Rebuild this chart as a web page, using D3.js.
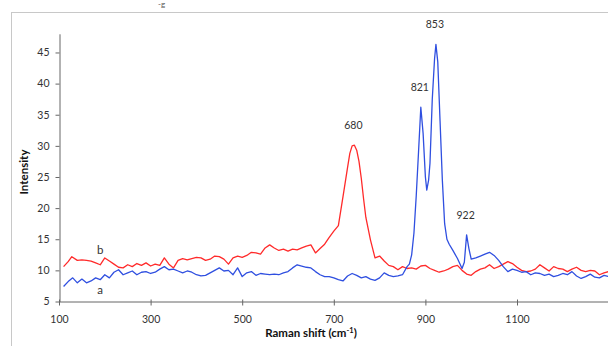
<!DOCTYPE html>
<html>
<head>
<meta charset="utf-8">
<script src="https://cdn.jsdelivr.net/npm/d3@7/dist/d3.min.js"></script>
<style>
  body { margin: 0; background: #fff; }
  svg { display: block; font-family: Lato, "Open Sans", sans-serif; }
</style>
</head>
<body>
<svg id="chart" width="608" height="346"></svg>
<script>
// spectrum b (red)
var shiftB = [110,120,128,140,150,160,170,180,190,200,210,220,230,240,250,260,270,280,290,300,
  310,320,330,340,350,360,370,380,390,400,410,420,430,440,450,460,470,480,490,500,
  510,520,530,540,550,560,570,580,590,600,610,620,630,640,650,660,670,680,690,700,
  710,720,730,735,740,745,750,755,760,765,770,780,790,800,810,820,830,840,850,860,
  870,880,890,900,910,920,930,940,950,960,970,980,990,1000,1010,1020,1030,1040,1050,1060,
  1070,1080,1090,1100,1110,1120,1130,1140,1150,1160,1170,1180,1190,1200,1210,1220,1230,1240,1250,1260,
  1270,1280,1290,1300];
var intensityB = [10.6,11.4,12.2,11.6,11.7,11.6,11.5,11.2,10.9,12.0,11.5,11.0,10.5,10.4,10.9,10.6,11.1,10.8,11.2,10.7,
  11.0,10.8,12.0,11.0,10.4,11.6,11.9,11.7,11.9,12.1,12.0,11.6,11.8,12.3,12.2,11.8,11.0,12.0,12.3,12.1,
  12.4,12.9,12.8,12.6,13.6,14.1,13.6,13.2,13.4,13.1,13.4,13.3,13.6,13.9,14.1,12.8,13.5,14.2,15.3,16.3,
  17.2,21.8,26.5,28.8,30.0,30.1,29.3,27.5,24.8,21.5,18.5,14.9,12.0,12.3,11.5,10.8,10.6,10.1,10.6,10.3,
  10.4,10.2,10.7,10.8,10.3,10.0,9.7,9.9,10.2,10.6,10.8,10.0,9.4,9.2,9.8,10.2,10.4,10.9,10.3,10.6,
  11.0,11.4,11.1,10.5,10.0,9.8,9.9,10.2,10.9,10.4,9.9,10.6,10.3,10.2,9.8,10.2,10.5,10.0,9.8,10.0,
  9.9,9.3,9.6,9.8];

// spectrum a (blue)
var shiftA = [110,120,130,140,150,160,170,180,190,200,210,220,230,240,250,260,270,280,290,300,
  310,320,330,340,350,360,370,380,390,400,410,420,430,440,450,460,470,480,490,500,
  510,520,530,540,550,560,570,580,590,600,610,620,630,640,650,660,670,680,690,700,
  710,720,730,740,750,760,770,780,790,800,810,820,830,840,850,860,865,870,875,880,
  885,890,895,900,903,907,910,915,920,923,927,932,937,942,947,952,960,970,980,985,
  990,995,1000,1010,1020,1030,1040,1050,1060,1070,1080,1090,1100,1110,1120,1130,1140,1150,1160,1170,
  1180,1190,1200,1210,1220,1230,1240,1250,1260,1270,1280,1290,1300];
var intensityA = [7.4,8.2,8.8,8.0,8.6,8.0,8.3,8.8,8.5,9.3,8.8,9.7,10.1,9.3,9.6,9.9,9.3,9.7,9.8,9.5,
  9.7,10.2,10.6,10.1,10.2,9.9,9.6,9.9,9.7,9.3,9.1,9.2,9.6,10.0,10.4,9.9,10.0,9.3,10.4,9.0,
  9.6,9.8,9.2,9.5,9.4,9.3,9.4,9.3,9.6,9.8,10.4,10.9,10.7,10.5,10.4,9.8,9.3,9.0,9.0,8.8,
  8.5,8.3,9.1,9.5,9.2,8.8,9.0,8.6,8.4,8.8,9.6,9.2,9.0,9.1,9.3,10.6,11.0,12.5,16.0,22.0,
  29.0,36.2,32.0,25.0,22.9,24.5,27.2,37.5,44.0,46.3,43.5,34.0,24.5,17.5,15.0,14.2,13.2,11.9,10.3,11.3,
  15.7,13.5,11.8,12.0,12.3,12.6,12.9,12.4,11.6,10.6,9.8,10.2,10.0,9.7,9.8,9.3,9.6,9.5,9.2,9.4,
  9.0,9.2,9.5,9.3,9.8,9.1,8.7,9.0,9.4,8.9,8.8,9.2,9.0];

var xTicks = [100, 300, 500, 700, 900, 1100];
var yTicks = [5, 10, 15, 20, 25, 30, 35, 40, 45];

var peakLabels = [
  { text: "680", x: 745, y: 30.1 },
  { text: "821", x: 890, y: 36.2 },
  { text: "853", x: 923, y: 46.3 },
  { text: "922", x: 990, y: 15.7 }
];

var svg = d3.select("#chart");

// outer frame (cropped figure)
svg.append("rect")
  .attr("x", 11.5).attr("y", 12.5)
  .attr("width", 700).attr("height", 400)
  .attr("fill", "none")
  .attr("stroke", "#c8c8c8");

// caption remnant at the top edge
svg.append("text")
  .attr("x", 158).attr("y", 7)
  .attr("font-size", 8)
  .attr("fill", "#555")
  .text("-g");

var x = d3.scaleLinear().domain([100, 1300]).range([59, 608.6]);
var y = d3.scaleLinear().domain([5, 48]).range([301.5, 33.8]);

// axes
var yAxis = svg.append("g")
  .attr("transform", "translate(59.5,0)")
  .call(d3.axisLeft(y).tickValues(yTicks).tickSize(4).tickSizeOuter(0).tickPadding(6));
var xAxis = svg.append("g")
  .attr("transform", "translate(0,301.5)")
  .call(d3.axisBottom(x).tickValues(xTicks).tickFormat(d3.format("d"))
    .tickSize(4).tickSizeOuter(0).tickPadding(10));

[xAxis, yAxis].forEach(function(a) {
  a.select(".domain").attr("stroke", "#666");
  a.selectAll(".tick line").attr("stroke", "#666");
  a.selectAll(".tick text")
    .attr("fill", "#333")
    .attr("font-size", 10.5)
    .attr("font-family", "Lato, sans-serif");
});
xAxis.selectAll(".tick line").attr("y1", -2);

var line = d3.line()
  .x(function(d) { return x(d[0]); })
  .y(function(d) { return y(d[1]); });

svg.append("path")
  .datum(d3.zip(shiftB, intensityB))
  .attr("fill", "none")
  .attr("stroke", "#ff2a2a")
  .attr("stroke-width", 1.3)
  .attr("stroke-linejoin", "round")
  .attr("d", line);

svg.append("path")
  .datum(d3.zip(shiftA, intensityA))
  .attr("fill", "none")
  .attr("stroke", "#2f4fe0")
  .attr("stroke-width", 1.3)
  .attr("stroke-linejoin", "round")
  .attr("d", line);

// peak labels
svg.selectAll(".peak")
  .data(peakLabels)
  .enter().append("text")
  .attr("class", "peak")
  .attr("x", function(d) { return x(d.x) - 1; })
  .attr("y", function(d) { return y(d.y) - 16; })
  .attr("text-anchor", "middle")
  .attr("font-size", 10.5)
  .attr("fill", "#333")
  .text(function(d) { return d.text; });

// series letters
svg.append("text").attr("x", x(190)).attr("y", 254)
  .attr("text-anchor", "middle").attr("font-size", 11.5).attr("fill", "#333").text("b");
svg.append("text").attr("x", x(190)).attr("y", 294)
  .attr("text-anchor", "middle").attr("font-size", 11.5).attr("fill", "#333").text("a");

// axis titles
var xt = svg.append("text")
  .attr("x", 311).attr("y", 337)
  .attr("text-anchor", "middle")
  .attr("font-size", 11.5)
  .attr("font-weight", "bold")
  .attr("fill", "#111");
xt.append("tspan").text("Raman shift (cm");
xt.append("tspan").attr("dy", -4).attr("font-size", 7.5).text("-1");
xt.append("tspan").attr("dy", 4).text(")");

svg.append("text")
  .attr("transform", "translate(28,172) rotate(-90)")
  .attr("text-anchor", "middle")
  .attr("font-size", 11.5)
  .attr("font-weight", "bold")
  .attr("fill", "#111")
  .text("Intensity");
</script>
</body>
</html>
